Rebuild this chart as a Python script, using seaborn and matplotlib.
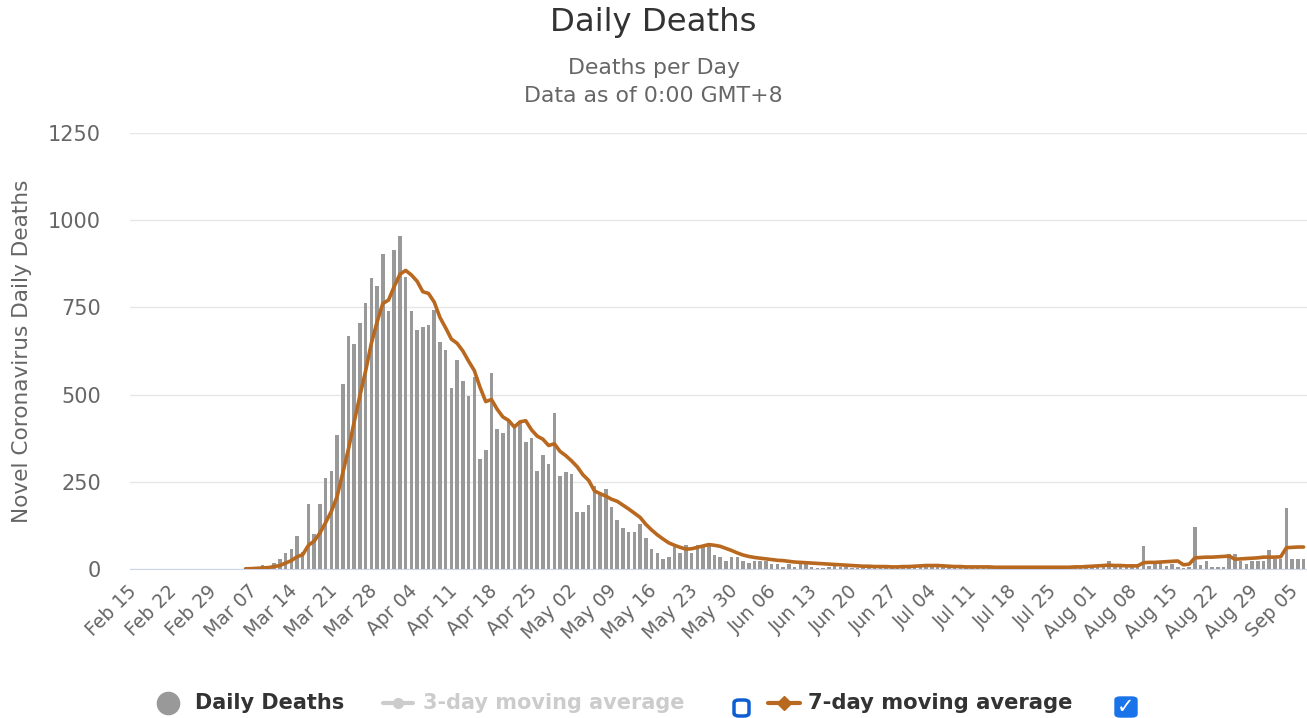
import pandas as pd
import seaborn as sns
import matplotlib.pyplot as plt
import matplotlib.transforms as mtransforms
from matplotlib.lines import Line2D
from matplotlib.patches import FancyBboxPatch

# daily deaths, Feb 15 - Sep 07 2020
deaths_feb = [0, 0, 0, 0, 0, 0, 0, 0, 0, 0, 0, 0, 0, 0, 0]
deaths_mar = [0, 0, 1, 0, 1, 2, 3, 7, 11, 7, 17, 28, 46, 56, 94, 48, 187, 100, 187, 260,
              281, 384, 531, 668, 646, 706, 762, 833, 810, 904, 739]
deaths_apr = [914, 955, 838, 741, 686, 694, 699, 742, 650, 627, 518, 600, 540, 495, 550,
              314, 341, 562, 402, 391, 424, 415, 420, 363, 375, 281, 326, 300, 447, 267]
deaths_may = [278, 273, 163, 163, 184, 237, 212, 229, 179, 140, 118, 107, 107, 128, 90,
              56, 46, 30, 35, 62, 46, 68, 46, 68, 66, 70, 40, 35, 24, 35, 35]
deaths_jun = [24, 18, 24, 24, 24, 13, 13, 7, 13, 7, 13, 13, 7, 4, 2, 6, 8, 5, 5, 3,
              2, 3, 7, 6, 5, 4, 3, 5, 6, 4]
deaths_jul = [6, 10, 12, 9, 7, 6, 5, 6, 5, 4, 4, 5, 3, 6, 4, 5, 4, 3, 5, 4,
              6, 5, 3, 4, 5, 4, 5, 6, 5, 7, 6]
deaths_aug = [8, 5, 5, 23, 8, 7, 8, 6, 6, 66, 10, 15, 21, 8, 13, 6, 4, 6, 121, 11,
              23, 6, 6, 6, 44, 44, 23, 13, 23, 23, 23]
deaths_sep = [55, 28, 28, 176, 28, 28, 28]

# 7-day moving average line, Mar 06 - Sep 07
ma_mar = [0.6, 1, 2, 3, 4, 7, 10, 17, 24, 35, 41, 68, 80, 103, 133, 165, 207, 276, 344,
          422, 497, 568, 647, 708, 761, 771]
ma_apr = [810, 845, 856, 843, 825, 795, 790, 765, 721, 691, 659, 647, 625, 596, 569,
          521, 480, 486, 458, 436, 426, 407, 422, 425, 399, 381, 372, 354, 359, 337]
ma_may = [325, 310, 293, 270, 254, 224, 216, 209, 200, 194, 183, 172, 160, 148, 128,
          112, 98, 86, 75, 68, 62, 57, 58, 62, 66, 70, 68, 65, 59, 53, 46]
ma_jun = [40, 36, 33, 31, 29, 27, 25, 24, 22, 20, 19, 18, 17, 16, 15, 14, 13, 12, 11, 10,
          9, 8, 8, 7, 7, 7, 6, 6, 7, 7]
ma_jul = [8, 9, 10, 10, 10, 9, 8, 7, 7, 6, 6, 6, 6, 6, 5, 5, 5, 5, 5, 5,
          5, 5, 5, 5, 5, 5, 5, 5, 6, 6, 7]
ma_aug = [8, 9, 10, 11, 10, 10, 9, 9, 9, 18, 19, 19, 20, 21, 22, 23, 12, 14, 32, 33,
          34, 34, 35, 36, 37, 28, 29, 30, 31, 32, 34]
ma_sep = [34, 34, 35, 61, 62, 63, 63]

yticks = [0, 250, 500, 750, 1000, 1250]

deaths = deaths_feb + deaths_mar + deaths_apr + deaths_may + deaths_jun + deaths_jul + deaths_aug + deaths_sep
ma7 = ma_mar + ma_apr + ma_may + ma_jun + ma_jul + ma_aug + ma_sep

dates = pd.date_range("2020-02-15", periods=len(deaths), freq="D")
df = pd.DataFrame({"date": dates, "deaths": deaths})
df["day"] = (df["date"] - dates[0]).dt.days

ma_dates = pd.date_range("2020-03-06", periods=len(ma7), freq="D")
ma_df = pd.DataFrame({"date": ma_dates, "ma7": ma7})
ma_df["day"] = (ma_df["date"] - dates[0]).dt.days

sns.set_style("white")
plt.rcParams["font.family"] = ["DejaVu Sans"]

BAR = "#999999"
ORANGE = "#b9681f"
GREY_TXT = "#666666"

fig = plt.figure(figsize=(13.07, 7.18), dpi=100)
ax = fig.add_axes([130 / 1307, 1 - 569 / 718, 1177 / 1307, 436 / 718])

sns.barplot(data=df, x="day", y="deaths", native_scale=True, width=0.62,
            color=BAR, saturation=1, linewidth=0, edgecolor="none", ax=ax, zorder=2)
sns.lineplot(data=ma_df, x="day", y="ma7", color=ORANGE, linewidth=2.6, ax=ax, zorder=3)

ax.set_xlim(-0.2, 205.6)
ax.set_ylim(0, 1250)
ax.set_yticks(yticks)
ax.set_yticklabels([str(v) for v in yticks])
ax.yaxis.grid(True, color="#e6e6e6", linewidth=1)
ax.set_axisbelow(True)
for s in ["top", "right", "left"]:
    ax.spines[s].set_visible(False)
ax.spines["bottom"].set_color("#ccd6eb")
ax.spines["bottom"].set_zorder(1)

weekly = df[df["day"] % 7 == 0]
ax.set_xticks(weekly["day"])
ax.set_xticklabels(weekly["date"].dt.strftime("%b %d"), rotation=45, ha="right",
                   rotation_mode="anchor", fontsize=13.5, color=GREY_TXT)
ax.tick_params(axis="x", length=0, pad=9)
ax.tick_params(axis="y", length=0, pad=21, labelsize=15, labelcolor=GREY_TXT)
shift = mtransforms.ScaledTranslation(-4 / 100, 0, fig.dpi_scale_trans)
for lbl in ax.get_xticklabels():
    lbl.set_transform(lbl.get_transform() + shift)

ax.set_xlabel("")
ax.set_ylabel("Novel Coronavirus Daily Deaths", fontsize=15.6, color=GREY_TXT)
ax.yaxis.set_label_coords(-0.083, 0.5)

fig.text(0.5, 1 - 22 / 718, "Daily Deaths", ha="center", va="center", fontsize=23.3, color="#333333")
fig.text(0.5, 1 - 68 / 718, "Deaths per Day", ha="center", va="center", fontsize=15.8, color=GREY_TXT)
fig.text(0.5, 1 - 96 / 718, "Data as of 0:00 GMT+8", ha="center", va="center", fontsize=15.8, color=GREY_TXT)

# legend row
W, H = 1307, 718
ly = 1 - 703 / H
fig.add_artist(Line2D([168 / W], [ly], marker="o", markersize=16, color=BAR, linestyle="none"))
fig.text(195 / W, ly, "Daily Deaths", ha="left", va="center", fontsize=15, fontweight="bold", color="#333333")

fig.add_artist(Line2D([383 / W, 413 / W], [ly, ly], color="#cccccc", linewidth=3))
fig.add_artist(Line2D([398 / W], [ly], marker="o", markersize=7, color="#cccccc", linestyle="none"))
fig.text(423 / W, ly, "3-day moving average", ha="left", va="center", fontsize=15, fontweight="bold", color="#cccccc")
fig.add_artist(FancyBboxPatch((734 / W, 1 - 716 / H), 15 / W, 16 / H,
                              boxstyle="round,pad=0,rounding_size=0.004",
                              facecolor="white", edgecolor="#0d5fd1", linewidth=2.5))

fig.add_artist(Line2D([768 / W, 800 / W], [ly, ly], color=ORANGE, linewidth=3))
fig.add_artist(Line2D([784 / W], [ly], marker="D", markersize=7, color=ORANGE, linestyle="none"))
fig.text(808 / W, ly, "7-day moving average", ha="left", va="center", fontsize=15.2, fontweight="bold", color="#333333")
fig.add_artist(FancyBboxPatch((1115 / W, 1 - 717 / H), 22 / W, 20 / H,
                              boxstyle="round,pad=0,rounding_size=0.004",
                              facecolor="#1a73e8", edgecolor="#1a73e8", linewidth=1))
fig.text(1126 / W, 1 - 707 / H, "\u2713", ha="center", va="center", fontsize=15,
         fontweight="bold", color="white")

fig.savefig("out.png", dpi=100)
